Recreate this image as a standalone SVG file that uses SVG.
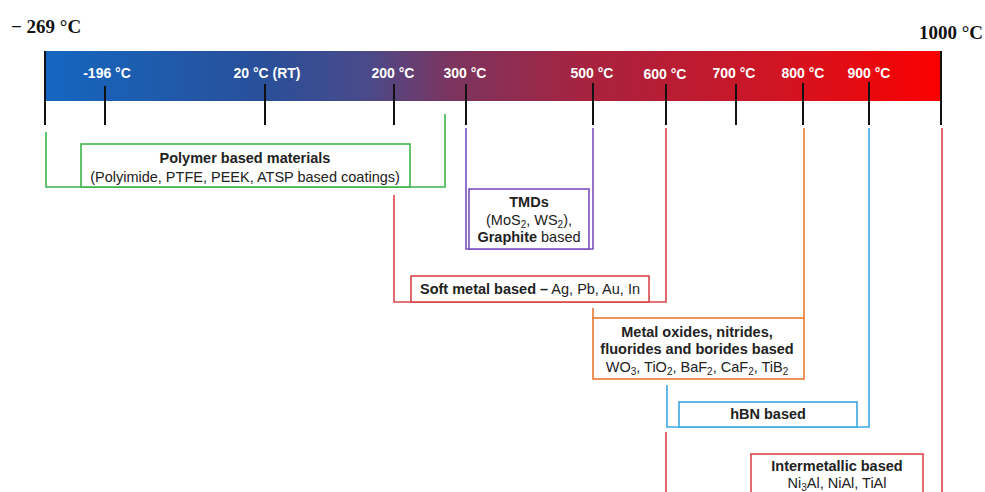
<svg xmlns="http://www.w3.org/2000/svg" width="985" height="492" viewBox="0 0 985 492">
<defs>
<linearGradient id="bar" x1="45" y1="0" x2="941" y2="0" gradientUnits="userSpaceOnUse">
<stop offset="0" stop-color="#1466c0"/>
<stop offset="0.25" stop-color="#2a4f98"/>
<stop offset="0.36" stop-color="#4a4a8a"/>
<stop offset="0.45" stop-color="#7a3560"/>
<stop offset="0.6" stop-color="#a62340"/>
<stop offset="0.8" stop-color="#cc1626"/>
<stop offset="1" stop-color="#fb0000"/>
</linearGradient>
<style>
.tick{stroke:#111;stroke-width:2}
.bl{font-family:"Liberation Sans",Arial,sans-serif;font-size:14px;font-weight:bold;fill:#fff;text-anchor:middle}
.end{font-family:"Liberation Serif","Times New Roman",serif;font-size:19px;font-weight:bold;fill:#111}
.t{font-family:"Liberation Sans",Arial,sans-serif;font-size:14.5px;fill:#222;text-anchor:middle}
.b{font-weight:bold}
.c{fill:none;stroke-width:1.6}
.box{fill:#fff;stroke-width:1.6}
.g{stroke:#3cb44b}
.p{stroke:#7b4fc0}
.r{stroke:#d9454a}
.o{stroke:#ec7a30}
.cy{stroke:#3aa8e0}
</style>
</defs>
<text class="end" x="11" y="33" font-size="20">− 269 °C</text>
<text class="end" x="983" y="39" text-anchor="end">1000 °C</text>
<g id="scale">
<rect x="45" y="51" width="896" height="50" fill="url(#bar)"/>
<line class="tick" x1="45" y1="51" x2="45" y2="125"/>
<line class="tick" x1="941" y1="51" x2="941" y2="125"/>
<line class="tick" x1="105" y1="86" x2="105" y2="125"/>
<line class="tick" x1="265" y1="84" x2="265" y2="125"/>
<line class="tick" x1="394" y1="84" x2="394" y2="125"/>
<line class="tick" x1="466" y1="84" x2="466" y2="125"/>
<line class="tick" x1="593" y1="83" x2="593" y2="125"/>
<line class="tick" x1="666" y1="84" x2="666" y2="125"/>
<line class="tick" x1="736" y1="84" x2="736" y2="125"/>
<line class="tick" x1="803" y1="83" x2="803" y2="125"/>
<line class="tick" x1="869" y1="82" x2="869" y2="125"/>
<text class="bl" x="107" y="78">-196 °C</text>
<text class="bl" x="267" y="78">20 °C (RT)</text>
<text class="bl" x="393" y="78">200 °C</text>
<text class="bl" x="465" y="78">300 °C</text>
<text class="bl" x="592" y="78">500 °C</text>
<text class="bl" x="665" y="79">600 °C</text>
<text class="bl" x="734" y="78">700 °C</text>
<text class="bl" x="803" y="78">800 °C</text>
<text class="bl" x="869" y="78">900 °C</text>
</g>
<g id="connectors">
<polyline class="c g" points="46,132 46,187 445,187 445,114"/>
<polyline class="c p" points="466,128 466,249 593,249 593,128"/>
<polyline class="c r" points="394,195 394,302 666,302 666,128"/>
<polyline class="c o" points="593,308 593,318"/>
<polyline class="c o" points="804,128 804,318"/>
<polyline class="c cy" points="667,385 667,427 869,427 869,128"/>
<polyline class="c r" points="666,432 666,492"/>
<polyline class="c r" points="942,128 942,492"/>
</g>
<g id="polymer">
<rect class="box g" x="81" y="144" width="329" height="43"/>
<text class="t b" x="245" y="163">Polymer based materials</text>
<text class="t" x="245" y="182">(Polyimide, PTFE, PEEK, ATSP based coatings)</text>
</g>
<g id="tmds">
<rect class="box p" x="469" y="189" width="120" height="60"/>
<text class="t b" x="529" y="207">TMDs</text>
<text class="t" x="529" y="225">(MoS<tspan font-size="10" dy="3">2</tspan><tspan dy="-3">, WS</tspan><tspan font-size="10" dy="3">2</tspan><tspan dy="-3">),</tspan></text>
<text class="t" x="529" y="242"><tspan class="b">Graphite</tspan> based</text>
</g>
<g id="softmetal">
<rect class="box r" x="411" y="276" width="238" height="26"/>
<text class="t" x="530" y="294"><tspan class="b">Soft metal based –</tspan> Ag, Pb, Au, In</text>
</g>
<g id="oxides">
<rect class="box o" x="593" y="318" width="211" height="61"/>
<text class="t b" x="697" y="337">Metal oxides, nitrides,</text>
<text class="t b" x="697" y="354">fluorides and borides based</text>
<text class="t" x="697" y="372">WO<tspan font-size="10" dy="3">3</tspan><tspan dy="-3">, TiO</tspan><tspan font-size="10" dy="3">2</tspan><tspan dy="-3">, BaF</tspan><tspan font-size="10" dy="3">2</tspan><tspan dy="-3">, CaF</tspan><tspan font-size="10" dy="3">2</tspan><tspan dy="-3">, TiB</tspan><tspan font-size="10" dy="3">2</tspan></text>
</g>
<g id="hbn">
<rect class="box cy" x="679" y="402" width="178" height="25"/>
<text class="t b" x="768" y="419">hBN based</text>
</g>
<g id="intermetallic">
<rect class="box r" x="751" y="454" width="172" height="45"/>
<text class="t b" x="837" y="471">Intermetallic based</text>
<text class="t" x="837" y="488">Ni<tspan font-size="10" dy="3">3</tspan><tspan dy="-3">Al, NiAl, TiAl</tspan></text>
</g>
</svg>
